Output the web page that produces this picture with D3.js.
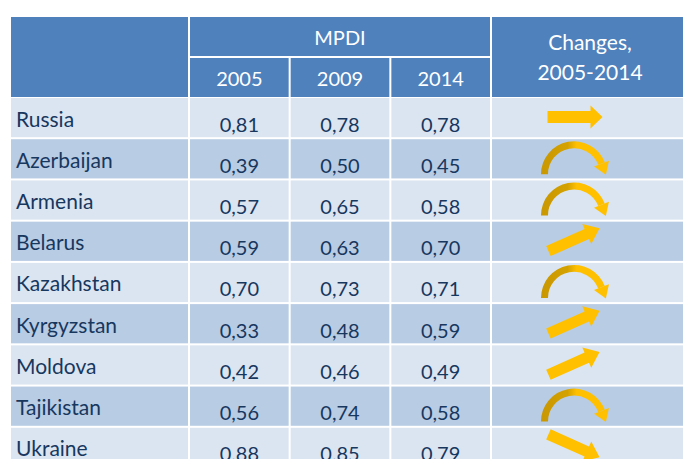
<!DOCTYPE html>
<html>
<head>
<meta charset="utf-8">
<script src="https://cdn.jsdelivr.net/npm/d3@7"></script>
<style>
  body { margin: 0; background: #fff; }
  text { font-family: Lato, "Open Sans", sans-serif; }
</style>
</head>
<body>
<svg id="chart" width="683" height="459"></svg>
<script>
// table data
const countries = ["Russia", "Azerbaijan", "Armenia", "Belarus", "Kazakhstan", "Kyrgyzstan", "Moldova", "Tajikistan", "Ukraine"];
const years = ["2005", "2009", "2014"];
const mpdi2005 = [0.81, 0.39, 0.57, 0.59, 0.70, 0.33, 0.42, 0.56, 0.88];
const mpdi2009 = [0.78, 0.50, 0.65, 0.63, 0.73, 0.48, 0.46, 0.74, 0.85];
const mpdi2014 = [0.78, 0.45, 0.58, 0.70, 0.71, 0.59, 0.49, 0.58, 0.79];
// shape of the change arrow per country
const trend = ["flat", "arc", "arc", "up", "arc", "up", "up", "arc", "down"];

const headBlue = "#4f81bd";
const rowLight = "#dbe5f1";
const rowDark = "#b8cce4";
const ink = "#17375e";
const gold = "#ffc000";

const fmt = d3.formatLocale({decimal: ",", thousands: " ", grouping: [3], currency: ["", ""]}).format(".2f");

const svg = d3.select("#chart");

const defs = svg.append("defs");
const grad = defs.append("linearGradient").attr("id", "arcGrad")
    .attr("x1", "0%").attr("x2", "100%").attr("y1", "0%").attr("y2", "0%");
grad.append("stop").attr("offset", "0%").attr("stop-color", "#c99700");
grad.append("stop").attr("offset", "42%").attr("stop-color", "#d4a200");
grad.append("stop").attr("offset", "56%").attr("stop-color", gold);
grad.append("stop").attr("offset", "100%").attr("stop-color", gold);

const rows = countries.map((c, i) => ({
    country: c,
    values: [mpdi2005[i], mpdi2009[i], mpdi2014[i]],
    trend: trend[i]
}));

const y = d3.scaleBand().domain(countries).range([98, 98 + 41 * countries.length]).paddingInner(2 / 41);
const x = d3.scaleBand().domain(years).range([190, 490]).paddingInner(0.02);

const left = 11, nameRight = 188, chLeft = 492, right = 690;

// header
const head = svg.append("g");
head.append("rect").attr("x", left).attr("y", 17).attr("width", nameRight - left).attr("height", 80).attr("fill", headBlue);
head.append("rect").attr("x", x.range()[0]).attr("y", 17).attr("width", x.range()[1] - x.range()[0]).attr("height", 39).attr("fill", headBlue);
head.selectAll("rect.yr").data(years).enter().append("rect").classed("yr", true)
    .attr("x", d => x(d)).attr("y", 58).attr("width", x.bandwidth()).attr("height", 39).attr("fill", headBlue);
head.append("rect").attr("x", chLeft).attr("y", 17).attr("width", right - chLeft).attr("height", 80).attr("fill", headBlue);

head.append("text").text("MPDI")
    .attr("x", (x.range()[0] + x.range()[1]) / 2).attr("y", 45)
    .attr("text-anchor", "middle").attr("fill", "#fff").style("font-size", "20px");
head.selectAll("text.yr").data(years).enter().append("text").classed("yr", true)
    .text(d => d)
    .attr("x", d => x(d) + x.bandwidth() / 2).attr("y", 86)
    .attr("text-anchor", "middle").attr("fill", "#fff").style("font-size", "20px");
head.selectAll("text.ch").data(["Changes,", "2005-2014"]).enter().append("text").classed("ch", true)
    .text(d => d)
    .attr("x", 590).attr("y", (d, i) => 50 + i * 30)
    .attr("text-anchor", "middle").attr("fill", "#fff").style("font-size", "21px");

// body rows
const row = svg.selectAll("g.row")
    .data(rows)
    .enter()
    .append("g")
    .classed("row", true)
    .attr("transform", d => `translate(0,${y(d.country)})`);

const fillOf = (d, i) => i % 2 === 0 ? rowLight : rowDark;

row.append("rect").attr("x", left).attr("width", nameRight - left).attr("height", y.bandwidth()).attr("fill", fillOf);
row.append("rect").attr("x", chLeft).attr("width", right - chLeft).attr("height", y.bandwidth()).attr("fill", fillOf);
row.each(function(d, i) {
    const g = d3.select(this);
    years.forEach((yr, j) => {
        g.append("rect").attr("x", x(yr)).attr("width", x.bandwidth()).attr("height", y.bandwidth()).attr("fill", fillOf(d, i));
        g.append("text").text(fmt(d.values[j]))
            .attr("x", x(yr) + x.bandwidth() / 2).attr("y", 33.5)
            .attr("text-anchor", "middle").attr("fill", ink).style("font-size", "20px");
    });
});

row.append("text").text(d => d.country)
    .attr("x", 16).attr("y", 28.5)
    .attr("fill", ink).style("font-size", "21px");

// arrows
const straightArrow = (len, w, headLen, headW) => {
    const h = len / 2, s = h - headLen;
    return `M${-h},${-w / 2}L${s},${-w / 2}L${s},${-headW}L${h},0L${s},${headW}L${s},${w / 2}L${-h},${w / 2}Z`;
};

const arcEnd = 1.2;
const arcBody = d3.arc().innerRadius(26).outerRadius(33).startAngle(-Math.PI / 2).endAngle(arcEnd);
const arcHead = () => {
    const r = 29.5, bx = r * Math.sin(arcEnd), by = -r * Math.cos(arcEnd);
    const tx = Math.cos(arcEnd), ty = Math.sin(arcEnd);
    const nx = Math.sin(arcEnd), ny = -Math.cos(arcEnd);
    return `M${bx + 8 * nx},${by + 8 * ny}L${bx + 12 * tx},${by + 12 * ty}L${bx - 8 * nx},${by - 8 * ny}Z`;
};

row.each(function(d) {
    const g = d3.select(this).append("g");
    if (d.trend === "arc") {
        g.attr("transform", "translate(574,35)");
        g.append("path").attr("d", arcBody()).attr("fill", "url(#arcGrad)");
        g.append("path").attr("d", arcHead()).attr("fill", gold);
    } else if (d.trend === "flat") {
        g.attr("transform", "translate(575,19)");
        g.append("path").attr("d", straightArrow(55, 12, 12, 11.5)).attr("fill", gold);
    } else {
        const ang = d.trend === "up" ? -24 : 24;
        g.attr("transform", `translate(574,18) rotate(${ang})`);
        g.append("path").attr("d", straightArrow(56, 11, 14, 11)).attr("fill", gold);
    }
});
</script>
</body>
</html>
